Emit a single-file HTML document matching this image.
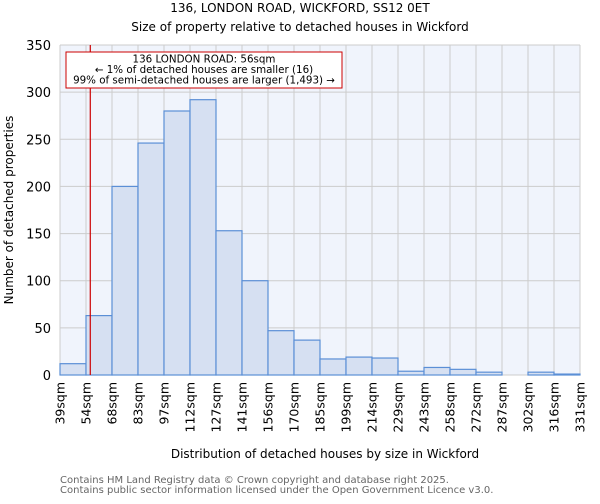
<!DOCTYPE html>
<html><head><meta charset="utf-8"><style>
body{margin:0;background:#fff;font-family:"DejaVu Sans","Liberation Sans",sans-serif;}
svg text{font-family:"DejaVu Sans","Liberation Sans",sans-serif;}
</style></head><body>
<svg id="chart" width="600" height="500" xmlns="http://www.w3.org/2000/svg">
<text x="300" y="12" text-anchor="middle" font-size="12">136, LONDON ROAD, WICKFORD, SS12 0ET</text>
<text x="300" y="31" text-anchor="middle" font-size="12">Size of property relative to detached houses in Wickford</text>
<rect x="60" y="45" width="520" height="330" fill="#f0f4fc"/>
<g id="grid"></g>
<g id="bars"></g>
<g id="ticks"></g>
<line id="marker" y1="45" y2="375" stroke="#cc0000" stroke-width="1.2"/>
<rect x="66" y="52" width="276" height="36" fill="#fff" stroke="#cc0000"/>
<text x="204" y="62.5" text-anchor="middle" font-size="10.3">136 LONDON ROAD: 56sqm</text>
<text x="204" y="73" text-anchor="middle" font-size="10.3">← 1% of detached houses are smaller (16)</text>
<text x="204" y="83.5" text-anchor="middle" font-size="10.3">99% of semi-detached houses are larger (1,493) →</text>
<text x="325" y="458" text-anchor="middle" font-size="12">Distribution of detached houses by size in Wickford</text>
<text transform="translate(13,210) rotate(-90)" text-anchor="middle" font-size="12">Number of detached properties</text>
<text x="60" y="483" font-size="10" fill="#666">Contains HM Land Registry data © Crown copyright and database right 2025.</text>
<text x="60" y="493" font-size="10" fill="#666">Contains public sector information licensed under the Open Government Licence v3.0.</text>
</svg>
<script>
const binLabels=["39sqm","54sqm","68sqm","83sqm","97sqm","112sqm","127sqm","141sqm","156sqm","170sqm","185sqm","199sqm","214sqm","229sqm","243sqm","258sqm","272sqm","287sqm","302sqm","316sqm","331sqm"];
const counts=[12,63,200,246,280,292,153,100,47,37,17,19,18,4,8,6,3,0,3,1];
const yTicks=[0,50,100,150,200,250,300,350];
const binStart=39, binEnd=331, propertySize=56;
const L=60,R=580,T=45,B=375,yMax=350;
const NS="http://www.w3.org/2000/svg";
const n=counts.length;
const xIdx=i=>L+(R-L)*i/n;
const xVal=v=>L+(R-L)*(v-binStart)/(binEnd-binStart);
const y=v=>B-(B-T)*v/yMax;
function mk(tag,attrs,parent){const e=document.createElementNS(NS,tag);for(const k in attrs)e.setAttribute(k,attrs[k]);document.getElementById(parent).appendChild(e);return e;}
yTicks.forEach(t=>{
 const g=mk("line",{x1:L,x2:R,y1:y(t),y2:y(t),stroke:"#ccc"},"grid");
 
 
 const tx=mk("text",{x:L-9,y:y(t)+5,"text-anchor":"end","font-size":"13"},"ticks");
 tx.textContent=t;
 
 
});
binLabels.forEach((lb,i)=>{
 const g=mk("line",{x1:xIdx(i),x2:xIdx(i),y1:T,y2:B,stroke:"#ccc"},"grid");
 
 
 const x=xIdx(i)+4.5;
 const tx=mk("text",{transform:`translate(${x},382) rotate(-90)`,"text-anchor":"end","font-size":"12.5"},"ticks");
 tx.textContent=lb;
 
 
});
counts.forEach((c,i)=>{
 const r=mk("rect",{x:xIdx(i),y:y(c),width:xIdx(i+1)-xIdx(i),height:B-y(c),fill:"#d6e0f2",stroke:"#5b8fd6","stroke-width":"1.2"},"bars");
 
 
});
const m=document.getElementById("marker");
m.setAttribute("x1",xVal(propertySize));m.setAttribute("x2",xVal(propertySize));
</script>
</body></html>
